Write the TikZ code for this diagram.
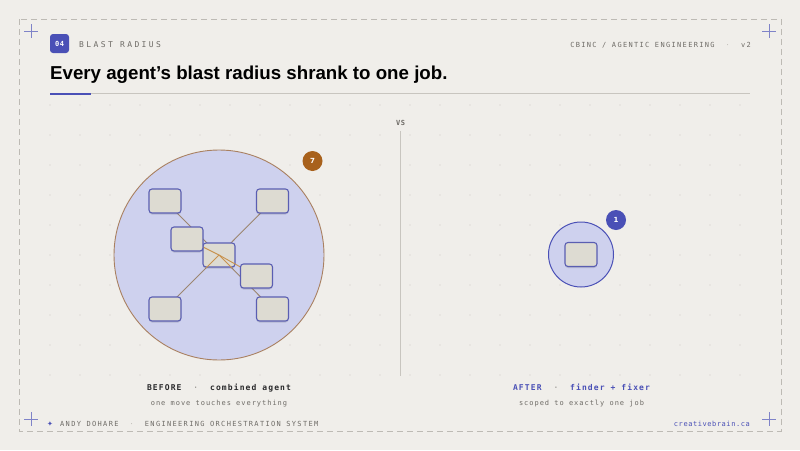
\documentclass[tikz,border=0pt]{standalone}
\usepackage{fontspec}
\setmainfont{Liberation Sans}
\newfontfamily\symf{DejaVu Sans}
\newfontfamily\monoA[LetterSpace=30]{DejaVu Sans Mono}
\newfontfamily\monoB[LetterSpace=19]{DejaVu Sans Mono}
\newfontfamily\monoC[LetterSpace=14]{DejaVu Sans Mono}
\newfontfamily\monoD[LetterSpace=8]{DejaVu Sans Mono}
\usetikzlibrary{shadows}
\definecolor{bgc}{HTML}{F0EEEA}
\definecolor{dotc}{HTML}{E0DDD8}
\definecolor{framec}{HTML}{BDBAB4}
\definecolor{indigo}{HTML}{4A50B6}
\definecolor{crossc}{HTML}{7F83C8}
\definecolor{lav}{HTML}{CED1EE}
\definecolor{boxfill}{HTML}{DDDBD2}
\definecolor{boxline}{HTML}{5A5EB2}
\definecolor{brownc}{HTML}{A8611C}
\definecolor{ringc}{HTML}{A98060}
\definecolor{edgec}{HTML}{9C8670}
\definecolor{hotc}{HTML}{C8924E}
\definecolor{graytext}{HTML}{6E6B66}
\definecolor{lighttext}{HTML}{7E7B76}
\definecolor{darktext}{HTML}{2A2A2C}
\definecolor{rulec}{HTML}{C8C5BF}
\pgfdeclarelayer{back}
\pgfdeclarelayer{low}
\pgfdeclarelayer{mid}
\pgfsetlayers{back,low,mid,main}
\tikzset{
  txt/.style={inner sep=0pt, anchor=base west},
  agentbox/.style={draw=boxline, line width=1.1pt, fill=boxfill, rounded corners=3pt,
    minimum width=32pt, minimum height=24pt, inner sep=0pt,
    drop shadow={shadow xshift=0pt, shadow yshift=-1.5pt, opacity=0.12, fill=black}},
  edge/.style={draw=edgec, line width=0.9pt},
  hotedge/.style={draw=hotc, line width=0.9pt},
  corner/.style={draw=crossc, line width=0.8pt},
  badge/.style={circle, minimum size=20pt, inner sep=0pt, text=white, font=\symf\bfseries\fontsize{7}{8}\selectfont},
}
\begin{document}
\begin{tikzpicture}[x=1pt,y=-1pt]
\useasboundingbox (0,0) rectangle (800,450);
\begin{pgfonlayer}{back}
\fill[bgc] (0,0) rectangle (800,450);
% dot grid
\foreach \i in {0,...,23} \foreach \j in {0,...,9}
  \fill[dotc] (50+30*\i,105+30*\j) circle[radius=0.8pt];
\end{pgfonlayer}
% frame
\draw[framec, line width=0.8pt, dash pattern=on 6pt off 4pt] (19,19) rectangle (781,431);
% corner crosses
\foreach \cx/\cy in {31/31, 769/31, 31/419, 769/419}
  \draw[corner] (\cx-7,\cy) -- (\cx+7,\cy) (\cx,\cy-7) -- (\cx,\cy+7);
% header
\node[fill=indigo, rounded corners=3pt, minimum width=19pt, minimum height=19pt, inner sep=0pt,
  text=white, font=\monoD\bfseries\fontsize{7}{8}\selectfont] (num) at (59.5,43.5) {04};
\node[txt, text=graytext, font=\monoA\fontsize{8}{10}\selectfont] (kicker) at (79,47) {BLAST RADIUS};
\node[txt, anchor=base east, text=graytext, font=\monoB\fontsize{7}{9}\selectfont] (meta) at (751,47)
  {CBINC / AGENTIC ENGINEERING \ {\color{framec}·}\ \ v2};
\node[txt, text=black, font=\bfseries\fontsize{18.7}{22}\selectfont] (title) at (50,79)
  {Every agent's blast radius shrank to one job.};
\draw[rulec, line width=0.8pt] (50,93.5) -- (750,93.5);
\draw[indigo, line width=2pt] (50,93.5) -- (91,93.5);
% divider
\node[txt, anchor=base, text=graytext, font=\monoD\bfseries\fontsize{7}{8}\selectfont] (vs) at (400.5,125.5) {VS};
\coordinate (vtop) at (400,131);
\coordinate (vbot) at (400,376);
\draw[rulec, line width=0.8pt] (vtop) -- (vbot);
% agent boxes (main layer)
\node[agentbox] (tl) at (165,201) {};
\node[agentbox] (tr) at (272.5,201) {};
\node[agentbox] (ml) at (187,239) {};
\node[agentbox] (mr) at (256.5,276) {};
\node[agentbox] (bl) at (165,309) {};
\node[agentbox] (br) at (272.5,309) {};
% left blast circle, centre box and edges below
\begin{pgfonlayer}{low}
\node[circle, draw=ringc, line width=0.9pt, fill=lav, minimum size=210pt, inner sep=0pt] (big) at (219,255) {};
\coordinate (hub) at (219,255);
\foreach \n in {tl,tr,bl,br}
  \draw[edge] (hub) -- (\n.center);
\node[agentbox] (c) at (hub) {};
\end{pgfonlayer}
\begin{pgfonlayer}{mid}
\draw[hotedge] (ml.center) -- (c.center) -- (mr.center);
\begin{scope}
  \clip (c.south west) rectangle (c.north east);
  \draw[hotedge] (c.center) -- (bl.center);
  \draw[hotedge] (c.center) -- (br.center);
\end{scope}
\end{pgfonlayer}
\node[badge, fill=brownc] (b7) at (312.5,161) {7};
% right circle
\node[circle, draw=indigo, line width=1pt, fill=lav, minimum size=65pt, inner sep=0pt] (small) at (581,254.5) {};
\node[agentbox] (one) at (581,254.5) {};
\node[badge, fill=indigo] (b1) at (616,220) {1};
% captions
\node[txt, anchor=base, font=\monoC\bfseries\fontsize{8}{10}\selectfont, text=darktext] (capL) at (219,390)
  {BEFORE \ {\color{lighttext}\mdseries·}\ \ combined agent};
\node[txt, anchor=base, font=\monoC\fontsize{7}{9}\selectfont, text=graytext] (subL) at (219,405.5)
  {one move touches everything};
\node[txt, anchor=base, font=\monoC\bfseries\fontsize{8}{10}\selectfont, text=indigo] (capR) at (581.5,390)
  {AFTER \ {\color{lighttext}\mdseries·}\ \ finder + fixer};
\node[txt, anchor=base, font=\monoC\fontsize{7}{9}\selectfont, text=graytext] (subR) at (581.5,405.5)
  {scoped to exactly one job};
% footer
\node[txt, text=indigo, font=\symf\fontsize{7}{8}\selectfont] (star) at (47,426) {✦};
\node[txt, text=graytext, font=\monoB\fontsize{7}{9}\selectfont] (foot) at (60,426)
  {ANDY DOHARE \ {\color{framec}·}\ \ ENGINEERING ORCHESTRATION SYSTEM};
\node[txt, anchor=base east, text=indigo, font=\monoD\fontsize{7}{9}\selectfont] (site) at (750,426.5)
  {creativebrain.ca};
\end{tikzpicture}
\end{document}
